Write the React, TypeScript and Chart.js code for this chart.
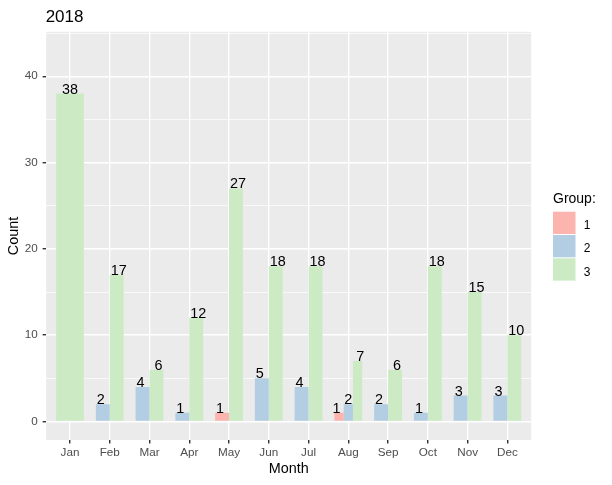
import { useEffect, useRef } from 'react';
import { Chart, registerables } from 'chart.js';

Chart.register(...registerables);

const months = ['Jan', 'Feb', 'Mar', 'Apr', 'May', 'Jun', 'Jul', 'Aug', 'Sep', 'Oct', 'Nov', 'Dec'];
const group1: (number | null)[] = [null, null, null, null, 1, null, null, 1, null, null, null, null];
const group2: (number | null)[] = [null, 2, 4, 1, null, 5, 4, 2, 2, 1, 3, 3];
const group3: (number | null)[] = [38, 17, 6, 12, 27, 18, 18, 7, 6, 18, 15, 10];
const groupNames = ['1', '2', '3'];
const groupColors = ['#FBB4AE', '#B3CDE3', '#CCEBC5'];
const yMajorTicks = [0, 10, 20, 30, 40];
const yMinorTicks = [5, 15, 25, 35, 45];
const chartTitle = '2018';
const legendTitle = 'Group:';
const xTitle = 'Month';
const yTitle = 'Count';

const series = [group1, group2, group3];
const FONT = "'Liberation Sans', Arial, sans-serif";
const LABEL_DODGE = 0.9;

const panelBg = {
  id: 'panelBg',
  beforeDraw(chart: any) {
    const { ctx, chartArea: a } = chart;
    ctx.save();
    ctx.fillStyle = '#EBEBEB';
    ctx.fillRect(a.left, a.top, a.right - a.left, a.bottom - a.top);
    ctx.restore();
  },
};

const valueLabels = {
  id: 'valueLabels',
  afterDatasetsDraw(chart: any) {
    const ctx = chart.ctx;
    const xs = chart.scales.x;
    const ys = chart.scales.y;
    ctx.save();
    ctx.font = `14.4px ${FONT}`;
    ctx.fillStyle = '#000';
    ctx.textAlign = 'center';
    ctx.textBaseline = 'alphabetic';
    months.forEach((_, i) => {
      const present = series.map((s, g) => (s[i] != null ? g : -1)).filter((g) => g >= 0);
      const n = present.length;
      present.forEach((g, k) => {
        const v = series[g][i] as number;
        const x = xs.getPixelForValue(i + ((k - (n - 1) / 2) * LABEL_DODGE) / n);
        const y = ys.getPixelForValue(v);
        ctx.fillText(String(v), x, y);
      });
    });
    ctx.restore();
  },
};

const titleAndLegend = {
  id: 'titleAndLegend',
  afterDraw(chart: any) {
    const ctx = chart.ctx;
    const a = chart.chartArea;
    ctx.save();
    ctx.fillStyle = '#000';
    ctx.textAlign = 'left';
    ctx.textBaseline = 'alphabetic';
    ctx.font = `17px ${FONT}`;
    ctx.fillText(chartTitle, a.left - 0.5, 21.7);

    const lx = a.right + 21.8;
    ctx.font = `14px ${FONT}`;
    ctx.fillText(legendTitle, lx, 203.3);
    const keyTop = 211.7;
    const stride = 23.3;
    const keySize = 22.3;
    ctx.font = `12px ${FONT}`;
    groupNames.forEach((name, i) => {
      const y = keyTop + i * stride;
      ctx.fillStyle = groupColors[i];
      ctx.fillRect(lx, y, 22.5, keySize);
      ctx.fillStyle = '#000';
      ctx.fillText(name, lx + 30.7, y + 17.3);
    });
    ctx.restore();
  },
};

export default function App() {
  const ref = useRef<HTMLCanvasElement | null>(null);

  useEffect(() => {
    if (!ref.current) return;
    const chart = new Chart(ref.current, {
      type: 'bar',
      data: {
        datasets: series.map((s, g) => ({
          label: groupNames[g],
          data: s.map((v, i) => ({ x: i, y: v })),
          backgroundColor: groupColors[g],
          borderWidth: 0,
          skipNull: true,
          categoryPercentage: 0.7,
          barPercentage: 1.0,
        })) as any,
      },
      options: {
        animation: false,
        responsive: false,
        layout: { padding: { top: 31.8, right: 80.8, left: 0, bottom: 0 } },
        plugins: {
          legend: { display: false },
          title: { display: false },
          tooltip: { enabled: false },
        },
        scales: {
          x: {
            type: 'linear',
            min: -0.6,
            max: 11.6,
            offset: false,
            grid: {
              offset: false,
              color: '#FFFFFF',
              lineWidth: 1.42,
              tickColor: '#333333',
              tickLength: 3.5,
              tickWidth: 1.42,
            } as any,
            border: { display: false },
            ticks: {
              autoSkip: false,
              maxRotation: 0,
              padding: 2,
              color: '#4D4D4D',
              font: { family: FONT, size: 11.7 },
              callback: (v: any) => months[v] ?? '',
            },
            afterBuildTicks: (s: any) => {
              s.ticks = months.map((_, i) => ({ value: i }));
            },
            afterFit: (s: any) => {
              s.height = 44.95;
            },
            title: {
              display: true,
              text: xTitle,
              color: '#000',
              font: { family: FONT, size: 14.4 },
              padding: { top: 0, bottom: 7.4 },
            },
          },
          y: {
            type: 'linear',
            min: -2.15,
            max: 45.15,
            grid: {
              color: '#FFFFFF',
              lineWidth: (c: any) => (yMajorTicks.includes(c.tick?.value) ? 1.42 : 0.71),
              tickColor: (c: any) => (yMajorTicks.includes(c.tick?.value) ? '#333333' : 'rgba(0,0,0,0)'),
              tickLength: 3.5,
              tickWidth: 1.42,
            } as any,
            border: { display: false },
            ticks: {
              padding: 5,
              color: '#4D4D4D',
              font: { family: FONT, size: 11.7 },
              callback: (v: any) => (yMajorTicks.includes(v) ? String(v) : ''),
            },
            afterBuildTicks: (s: any) => {
              s.ticks = [...yMajorTicks, ...yMinorTicks].sort((p, q) => p - q).map((v) => ({ value: v }));
            },
            afterFit: (s: any) => {
              s.width = 46.15;
            },
            title: {
              display: true,
              text: yTitle,
              color: '#000',
              font: { family: FONT, size: 14.4 },
              padding: { top: 5.3, bottom: 0 },
            },
          },
        },
      } as any,
      plugins: [panelBg, valueLabels, titleAndLegend],
    });
    return () => chart.destroy();
  }, []);

  return (
    <div style={{ position: 'absolute', left: 0, top: 0, width: 612, height: 485 }}>
      <canvas ref={ref} width={612} height={485} style={{ display: 'block' }} />
    </div>
  );
}
